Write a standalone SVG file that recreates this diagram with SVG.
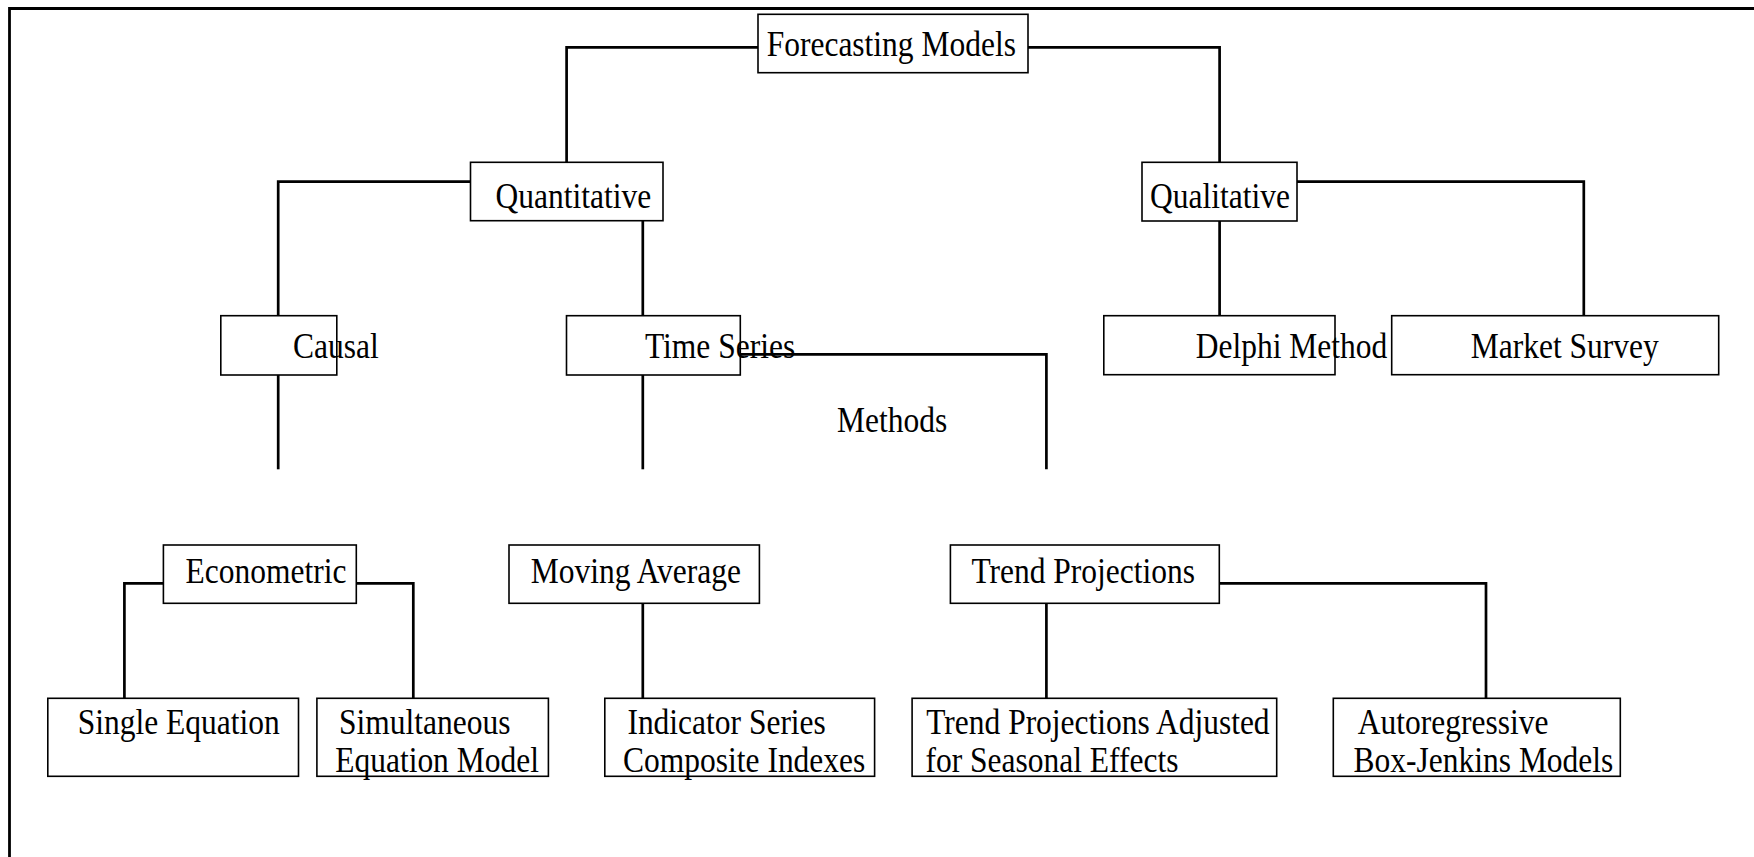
<svg xmlns="http://www.w3.org/2000/svg" width="1754" height="857" viewBox="0 0 1754 857">
<style>
.box{fill:none;stroke:#000;stroke-width:1.6}
.con{fill:none;stroke:#000;stroke-width:2.7;stroke-linejoin:miter;stroke-linecap:butt}
.frame{fill:none;stroke:#000;stroke-width:2.8}
text{font-family:"Liberation Serif","Times New Roman",serif;font-size:35.5px;fill:#000}
</style>
<rect width="1754" height="857" fill="#fff"/>
<path class="frame" d="M9.5,857 V8.5 H1754"/>
<g id="connectors">
<path class="con" d="M758,47.3 H566.6 V162.3"/>
<path class="con" d="M1028,47.3 H1219.6 V162.3"/>
<path class="con" d="M470.5,181.7 H278.2 V315.7"/>
<path class="con" d="M642.8,220.7 V315.7"/>
<path class="con" d="M278.2,375 V469.3"/>
<path class="con" d="M642.8,375 V469.3"/>
<path class="con" d="M740.3,354.3 H1046.4 V469.3"/>
<path class="con" d="M1219.6,221 V315.7"/>
<path class="con" d="M1297,181.7 H1583.8 V315.7"/>
<path class="con" d="M163.4,583.3 H124.4 V698.3"/>
<path class="con" d="M356.3,583.3 H413.3 V698.3"/>
<path class="con" d="M642.8,603.3 V698.3"/>
<path class="con" d="M1046.4,603.3 V698.3"/>
<path class="con" d="M1219.3,583.3 H1486 V698.3"/>
</g>
<g id="forecasting-models"><rect class="box" x="758" y="14.3" width="270" height="58.4"/><text transform="matrix(0.887 0 0 1 766.7 55.5)">Forecasting Models</text></g>
<g id="quantitative"><rect class="box" x="470.5" y="162.3" width="192.5" height="58.4"/><text transform="matrix(0.887 0 0 1 495.5 207.5)">Quantitative</text></g>
<g id="qualitative"><rect class="box" x="1142" y="162.3" width="155" height="58.7"/><text transform="matrix(0.887 0 0 1 1150 207.5)">Qualitative</text></g>
<g id="causal"><rect class="box" x="220.8" y="315.7" width="116" height="59.3"/><text transform="matrix(0.887 0 0 1 293 358)">Causal</text></g>
<g id="time-series"><rect class="box" x="566.5" y="315.7" width="173.8" height="59.3"/><text transform="matrix(0.887 0 0 1 645 358)">Time Series</text></g>
<g id="methods-label"><text transform="matrix(0.887 0 0 1 837 432.3)">Methods</text></g>
<g id="delphi-method"><rect class="box" x="1103.8" y="315.7" width="231.2" height="59"/><text transform="matrix(0.887 0 0 1 1195.8 358.3)">Delphi Method</text></g>
<g id="market-survey"><rect class="box" x="1391.7" y="315.7" width="327" height="59"/><text transform="matrix(0.887 0 0 1 1470.8 358.3)">Market Survey</text></g>
<g id="econometric"><rect class="box" x="163.4" y="545" width="192.9" height="58.3"/><text transform="matrix(0.887 0 0 1 185.6 583.3)">Econometric</text></g>
<g id="moving-average"><rect class="box" x="509" y="545" width="250.4" height="58.3"/><text transform="matrix(0.887 0 0 1 530.8 583.3)">Moving Average</text></g>
<g id="trend-projections"><rect class="box" x="950.4" y="545" width="268.9" height="58.3"/><text transform="matrix(0.887 0 0 1 971.4 583.3)">Trend Projections</text></g>
<g id="single-equation"><rect class="box" x="47.8" y="698.3" width="250.7" height="78"/><text transform="matrix(0.887 0 0 1 77.7 734)">Single Equation</text></g>
<g id="simultaneous-equation-model"><rect class="box" x="316.9" y="698.3" width="231.5" height="78"/><text transform="matrix(0.887 0 0 1 339.1 734)">Simultaneous</text><text transform="matrix(0.887 0 0 1 335.2 772.3)">Equation Model</text></g>
<g id="indicator-series"><rect class="box" x="604.8" y="698.3" width="269.8" height="78"/><text transform="matrix(0.887 0 0 1 627.4 734)">Indicator Series</text><text transform="matrix(0.887 0 0 1 623.1 772.3)">Composite Indexes</text></g>
<g id="trend-projections-adjusted"><rect class="box" x="912.1" y="698.3" width="364.6" height="78"/><text transform="matrix(0.887 0 0 1 926.2 734)">Trend Projections Adjusted</text><text transform="matrix(0.887 0 0 1 925.5 772.3)">for Seasonal Effects</text></g>
<g id="autoregressive"><rect class="box" x="1333.3" y="698.3" width="287" height="78"/><text transform="matrix(0.887 0 0 1 1357.8 734)">Autoregressive</text><text transform="matrix(0.887 0 0 1 1353.6 772.3)">Box-Jenkins Models</text></g>
</svg>
